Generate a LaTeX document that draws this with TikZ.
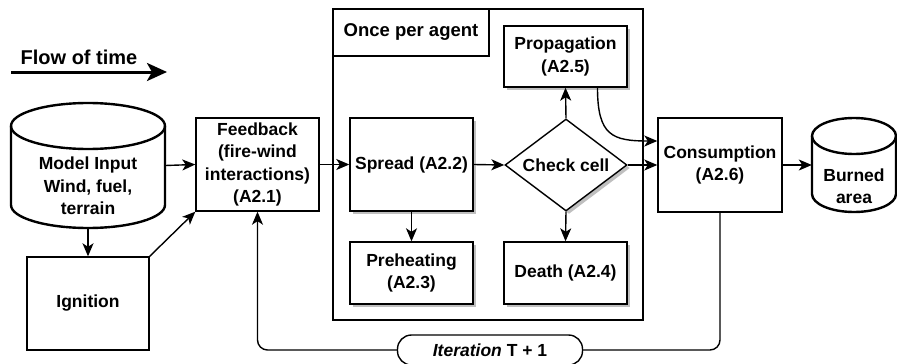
\documentclass[tikz,border=0pt]{standalone}
\usepackage{fontspec}
\setmainfont{Liberation Sans}
\usetikzlibrary{shapes.geometric,arrows.meta,shadows,calc}
\begin{document}
\begin{tikzpicture}[x=1pt,y=-1pt,
  txt/.style={font=\bfseries\fontsize{17.5}{22.5}\selectfont, align=center, inner sep=0pt},
  box/.style={txt, draw, line width=1.4pt, fill=white},
  shbox/.style={box, drop shadow={shadow xshift=3pt,shadow yshift=-3pt,fill=black!25,opacity=1}},
  arr/.style={-{Stealth[length=13pt,width=11pt,inset=3.5pt]}, line width=1.4pt},
  cyl/.style={line width=2.4pt}
]
\useasboundingbox[fill=white] (0,0) rectangle (897,364);

% flow of time
\node[txt, font=\bfseries\fontsize{20}{24}\selectfont] (flowtxt) at (79,57) {Flow of time};
\coordinate (flowa) at (11,72);
\coordinate (flowb) at (167,72);
\draw[line width=3pt, -{Stealth[length=20pt,width=18pt,inset=5pt]}] (flowa) -- (flowb);

% model input cylinder
\node[minimum width=154pt, minimum height=125pt, inner sep=0pt] (mi) at (88,165.5) {};
\draw[cyl] (11,126) -- (11,205) arc[start angle=180, end angle=360, x radius=77pt, y radius=23pt] -- (165,126);
\draw[cyl] (88,126) ellipse[x radius=77pt, y radius=23pt];
\node[txt] (mitxt) at (88,186) {Model Input\\Wind, fuel,\\terrain};

% ignition, feedback
\node[box, minimum width=122pt, minimum height=93pt] (ig) at (88,303.5) {Ignition};
\node[box, minimum width=123pt, minimum height=93pt] (fb) at (257.5,164.5) {Feedback\\(fire-wind\\interactions)\\(A2.1)};

% container
\node[draw, line width=2.6pt, minimum width=310pt, minimum height=311pt, inner sep=0pt] (ct) at (488,164.5) {};
\node[txt, font=\bfseries\fontsize{18.5}{22.5}\selectfont, draw, line width=1.4pt, minimum width=156pt, minimum height=47pt] (opa) at (411,32.5) {Once per agent};

\node[shbox, minimum width=123pt, minimum height=61pt] (pr) at (565.5,56.5) {Propagation\\(A2.5)};
\node[shbox, minimum width=123pt, minimum height=93pt] (sp) at (411.5,164.5) {Spread (A2.2)};
\node[draw, diamond, line width=1.4pt, fill=white, minimum width=122pt, minimum height=92pt, inner sep=0pt,
  drop shadow={shadow xshift=3pt,shadow yshift=-3pt,fill=black!25,opacity=1},
  label={[txt]center:Check cell}] (cc) at (566,165) {};
\node[shbox, minimum width=123pt, minimum height=62pt] (ph) at (411.5,273) {Preheating\\(A2.3)};
\node[shbox, minimum width=123pt, minimum height=62pt] (de) at (565.5,273) {Death (A2.4)};

% consumption, burned area
\node[box, minimum width=124pt, minimum height=94pt] (co) at (720,165) {Consumption\\(A2.6)};
\node[minimum width=84pt, minimum height=94pt, inner sep=0pt] (ba) at (854,165) {};
\draw[cyl] (812,136) -- (812,194) arc[start angle=180, end angle=360, x radius=42pt, y radius=18pt] -- (896,136);
\draw[cyl] (854,136) ellipse[x radius=42pt, y radius=18pt];
\node[txt] (batxt) at (854,186) {Burned\\area};

% iteration pill
\node[txt, draw, line width=1.4pt, fill=white, rounded corners=14pt, minimum width=185pt, minimum height=30pt] (it) at (490,350) {\textit{Iteration} T + 1};

% connectors
\draw[arr] (mi.east) -- (fb.west);
\draw[arr] (mi.south) -- (ig.north);
\draw[arr] (ig.north east) -- (fb.south west);
\draw[arr] (fb.east) -- (sp.west);
\draw[arr] (sp.east) -- (cc.west);
\draw[arr] (sp.south) -- (ph.north);
\draw[arr] (cc.north) -- (pr.south);
\draw[arr] (cc.south) -- (de.north);
\draw[arr] (cc.east) -- (co.west);
\draw[arr] ($(pr.south)+(32,0)$) .. controls ($(pr.south)+(32,48)$) and ($(co.west)+(-45,-24)$) .. ($(co.west)+(0,-24)$);
\draw[arr] (co.east) -- (ba.west);
\draw[line width=1.4pt, rounded corners=10pt] (co.south) |- (it.east);
\draw[arr, rounded corners=10pt] (it.west) -| (fb.south);
\end{tikzpicture}
\end{document}
